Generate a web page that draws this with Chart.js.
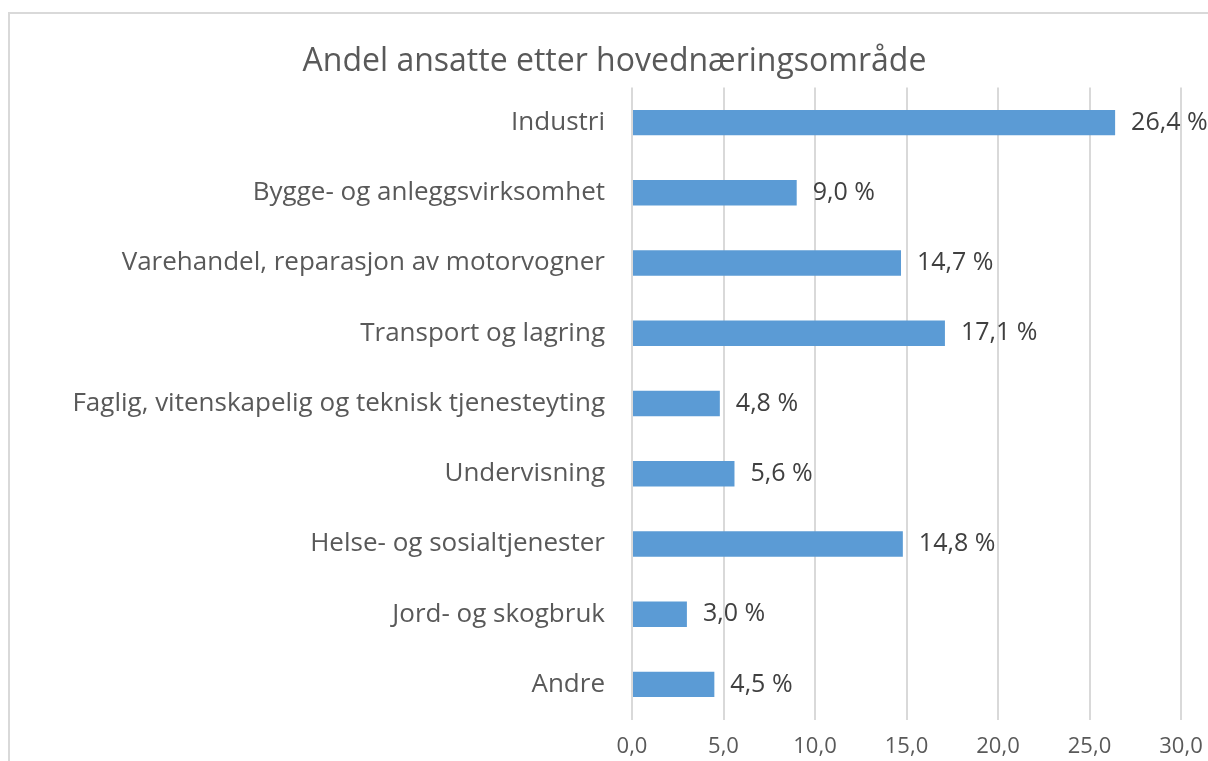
<!DOCTYPE html>
<html>
<head>
<meta charset="utf-8">
<script src="https://cdn.jsdelivr.net/npm/chart.js@4"></script>
<style>
  html, body { margin: 0; padding: 0; background: #fff; overflow: hidden; }
  .frame { position: absolute; left: 8px; top: 12px; width: 1400px; height: 900px; border: 2px solid #d9d9d9; }
  .wrap { position: absolute; left: 0; top: 0; width: 1228px; height: 787px; }
</style>
</head>
<body>
<div class="frame"></div>
<div class="wrap"><canvas id="chart"></canvas></div>
<script>
const categories = [
  "Industri",
  "Bygge- og anleggsvirksomhet",
  "Varehandel, reparasjon av motorvogner",
  "Transport og lagring",
  "Faglig, vitenskapelig og teknisk tjenesteyting",
  "Undervisning",
  "Helse- og sosialtjenester",
  "Jord- og skogbruk",
  "Andre",
];
const shares = [26.4, 9.0, 14.7, 17.1, 4.8, 5.6, 14.8, 3.0, 4.5];
const xTicks = [0, 5, 10, 15, 20, 25, 30];

const fmt = (v) => v.toFixed(1).replace(".", ",");

// value labels to the right of each bar
const barLabels = {
  id: "barLabels",
  afterDatasetsDraw(chart) {
    const { ctx } = chart;
    const meta = chart.getDatasetMeta(0);
    ctx.save();
    ctx.font = '25px "Open Sans"';
    ctx.fillStyle = "#404040";
    ctx.textBaseline = "middle";
    ctx.textAlign = "left";
    meta.data.forEach((bar, i) => {
      ctx.fillText(`${fmt(shares[i])} %`, bar.x + 16, bar.y);
    });
    ctx.restore();
  },
};

new Chart(document.getElementById("chart"), {
  type: "bar",
  data: {
    labels: categories,
    datasets: [{
      data: shares,
      backgroundColor: "#5b9bd5",
      borderWidth: 0,
      barPercentage: 0.36,
      categoryPercentage: 1,
    }],
  },
  plugins: [barLabels],
  options: {
    indexAxis: "y",
    responsive: true,
    maintainAspectRatio: false,
    animation: false,
    layout: { padding: { top: 0, right: 47, bottom: 13, left: 48 } },
    plugins: {
      legend: { display: false },
      tooltip: { enabled: false },
      title: {
        display: true,
        text: "Andel ansatte etter hovednæringsområde",
        color: "#595959",
        font: { family: "Open Sans", size: 32, weight: "normal" },
        padding: { top: 43, bottom: 6 },
      },
    },
    scales: {
      x: {
        min: 0,
        max: 30,
        afterBuildTicks(scale) {
          scale.ticks = xTicks.map((v) => ({ value: v }));
        },
        ticks: {
          color: "#595959",
          font: { family: "Open Sans", size: 22 },
          padding: 14,
          callback: (v) => fmt(v),
        },
        grid: { color: "#d9d9d9", lineWidth: 2, drawTicks: false },
        border: { display: false },
      },
      y: {
        afterFit(scale) { scale.width = 584; },
        ticks: {
          color: "#595959",
          font: { family: "Open Sans", size: 26 },
          padding: 27,
        },
        grid: { display: false, drawTicks: false },
        border: { display: false },
      },
    },
  },
});
</script>
</body>
</html>
